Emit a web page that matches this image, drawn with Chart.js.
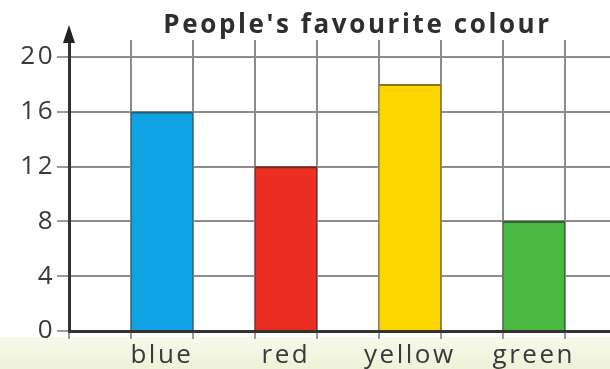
<!DOCTYPE html>
<html>
<head>
<meta charset="utf-8">
<script src="https://cdn.jsdelivr.net/npm/chart.js@4"></script>
<style>
  html, body { margin: 0; padding: 0; background: #fff; }
  #wrap { width: 610px; height: 369px; }
</style>
</head>
<body>
<div id="wrap"><canvas id="grafico"></canvas></div>
<script>
// dados
const cores = ["blue", "red", "yellow", "green"];
const pessoas = [16, 12, 18, 8];
const corBarra = ["#0fa3e6", "#ec2d22", "#fdd600", "#48b840"];
const corBorda = ["#2a5a75", "#7a241c", "#8a7410", "#2d6428"];
const ticksY = [0, 4, 8, 12, 16, 20];
const titulo = "People's favourite colour";

// cada cor ocupa duas casas da grade; a barra fica na segunda casa
const pontos = pessoas.map((v, i) => ({ x: 1.5 + 2 * i, y: v }));
const posLabel = cores.map((c, i) => 1.5 + 2 * i);

const fonte = "'Open Sans', sans-serif";
const espaco = "2.5px";

const fundo = {
  id: "fundo",
  beforeLayout(chart) {
    chart.ctx.letterSpacing = espaco;
  },
  beforeDraw(chart) {
    const { ctx, width, height } = chart;
    ctx.letterSpacing = espaco;
    ctx.save();
    ctx.fillStyle = "#ffffff";
    ctx.fillRect(0, 0, width, height);
    const g = ctx.createLinearGradient(0, 337, 0, height);
    g.addColorStop(0, "#f8f9ea");
    g.addColorStop(1, "#eef2d8");
    ctx.fillStyle = g;
    ctx.fillRect(0, 337, width, height - 337);
    ctx.restore();
  },
};

const seta = {
  id: "seta",
  afterDraw(chart) {
    const { ctx, chartArea } = chart;
    const x = chartArea.left;
    ctx.save();
    ctx.strokeStyle = "#333";
    ctx.lineWidth = 3;
    ctx.beginPath();
    ctx.moveTo(x, chartArea.top + 2);
    ctx.lineTo(x, 36);
    ctx.stroke();
    ctx.fillStyle = "#222";
    ctx.beginPath();
    ctx.moveTo(x, 25);
    ctx.lineTo(x - 6, 43);
    ctx.lineTo(x + 6, 43);
    ctx.closePath();
    ctx.fill();
    // titulo
    ctx.fillStyle = "#2e2e2e";
    ctx.font = "bold 26px " + fonte;
    ctx.letterSpacing = "2.6px";
    ctx.textAlign = "center";
    ctx.textBaseline = "alphabetic";
    ctx.fillText(titulo, (chartArea.left + chartArea.right) / 2 + 18, 33);
    ctx.restore();
  },
};

const ctx = document.querySelector("#grafico");

new Chart(ctx, {
  type: "bar",
  data: {
    datasets: [
      {
        label: "Pessoas",
        data: pontos,
        backgroundColor: corBarra,
        borderColor: corBorda,
        borderWidth: { top: 2, left: 1, right: 1, bottom: 0 },
        borderSkipped: false,
        categoryPercentage: 1,
        barPercentage: 1,
      },
    ],
  },
  options: {
    responsive: true,
    maintainAspectRatio: false,
    animation: false,
    layout: { padding: { top: 40, left: 0, right: 0, bottom: 0 } },
    plugins: { legend: { display: false }, tooltip: { enabled: false } },
    scales: {
      x: {
        type: "linear",
        min: 0,
        max: 8.73,
        offset: false,
        afterBuildTicks(scale) {
          const t = [];
          for (let i = 0; i <= 8; i++) t.push({ value: i });
          scale.ticks = t;
        },
        afterFit(scale) {
          scale.height = 9;
        },
        grid: {
          offset: false,
          color: "#8c8c8c",
          tickColor: "#9a9a9a",
          lineWidth: 2,
          tickLength: 8,
        },
        border: { color: "#333", width: 3 },
        ticks: { display: false },
      },
      rotulos: {
        type: "linear",
        position: "bottom",
        min: 0,
        max: 8.73,
        offset: false,
        afterBuildTicks(scale) {
          scale.ticks = posLabel.map((p) => ({ value: p }));
        },
        afterFit(scale) {
          scale.height = 29;
        },
        grid: { display: false, drawTicks: false },
        border: { display: false },
        ticks: {
          autoSkip: false,
          maxRotation: 0,
          padding: 0,
          color: "#3a3a3a",
          font: { family: fonte, size: 26 },
          callback: (v) => {
            const i = posLabel.indexOf(v);
            return i >= 0 ? cores[i] : "";
          },
        },
      },
      y: {
        min: 0,
        max: 21.24,
        afterBuildTicks(scale) {
          scale.ticks = ticksY.map((v) => ({ value: v }));
        },
        afterFit(scale) {
          scale.width = 69;
        },
        grid: { color: "#8c8c8c", lineWidth: 2, tickLength: 12, tickColor: "#9a9a9a" },
        border: { color: "#333", width: 3 },
        ticks: {
          padding: 2,
          color: "#3a3a3a",
          font: { family: fonte, size: 26 },
        },
      },
    },
  },
  plugins: [fundo, seta],
});
</script>
</body>
</html>
